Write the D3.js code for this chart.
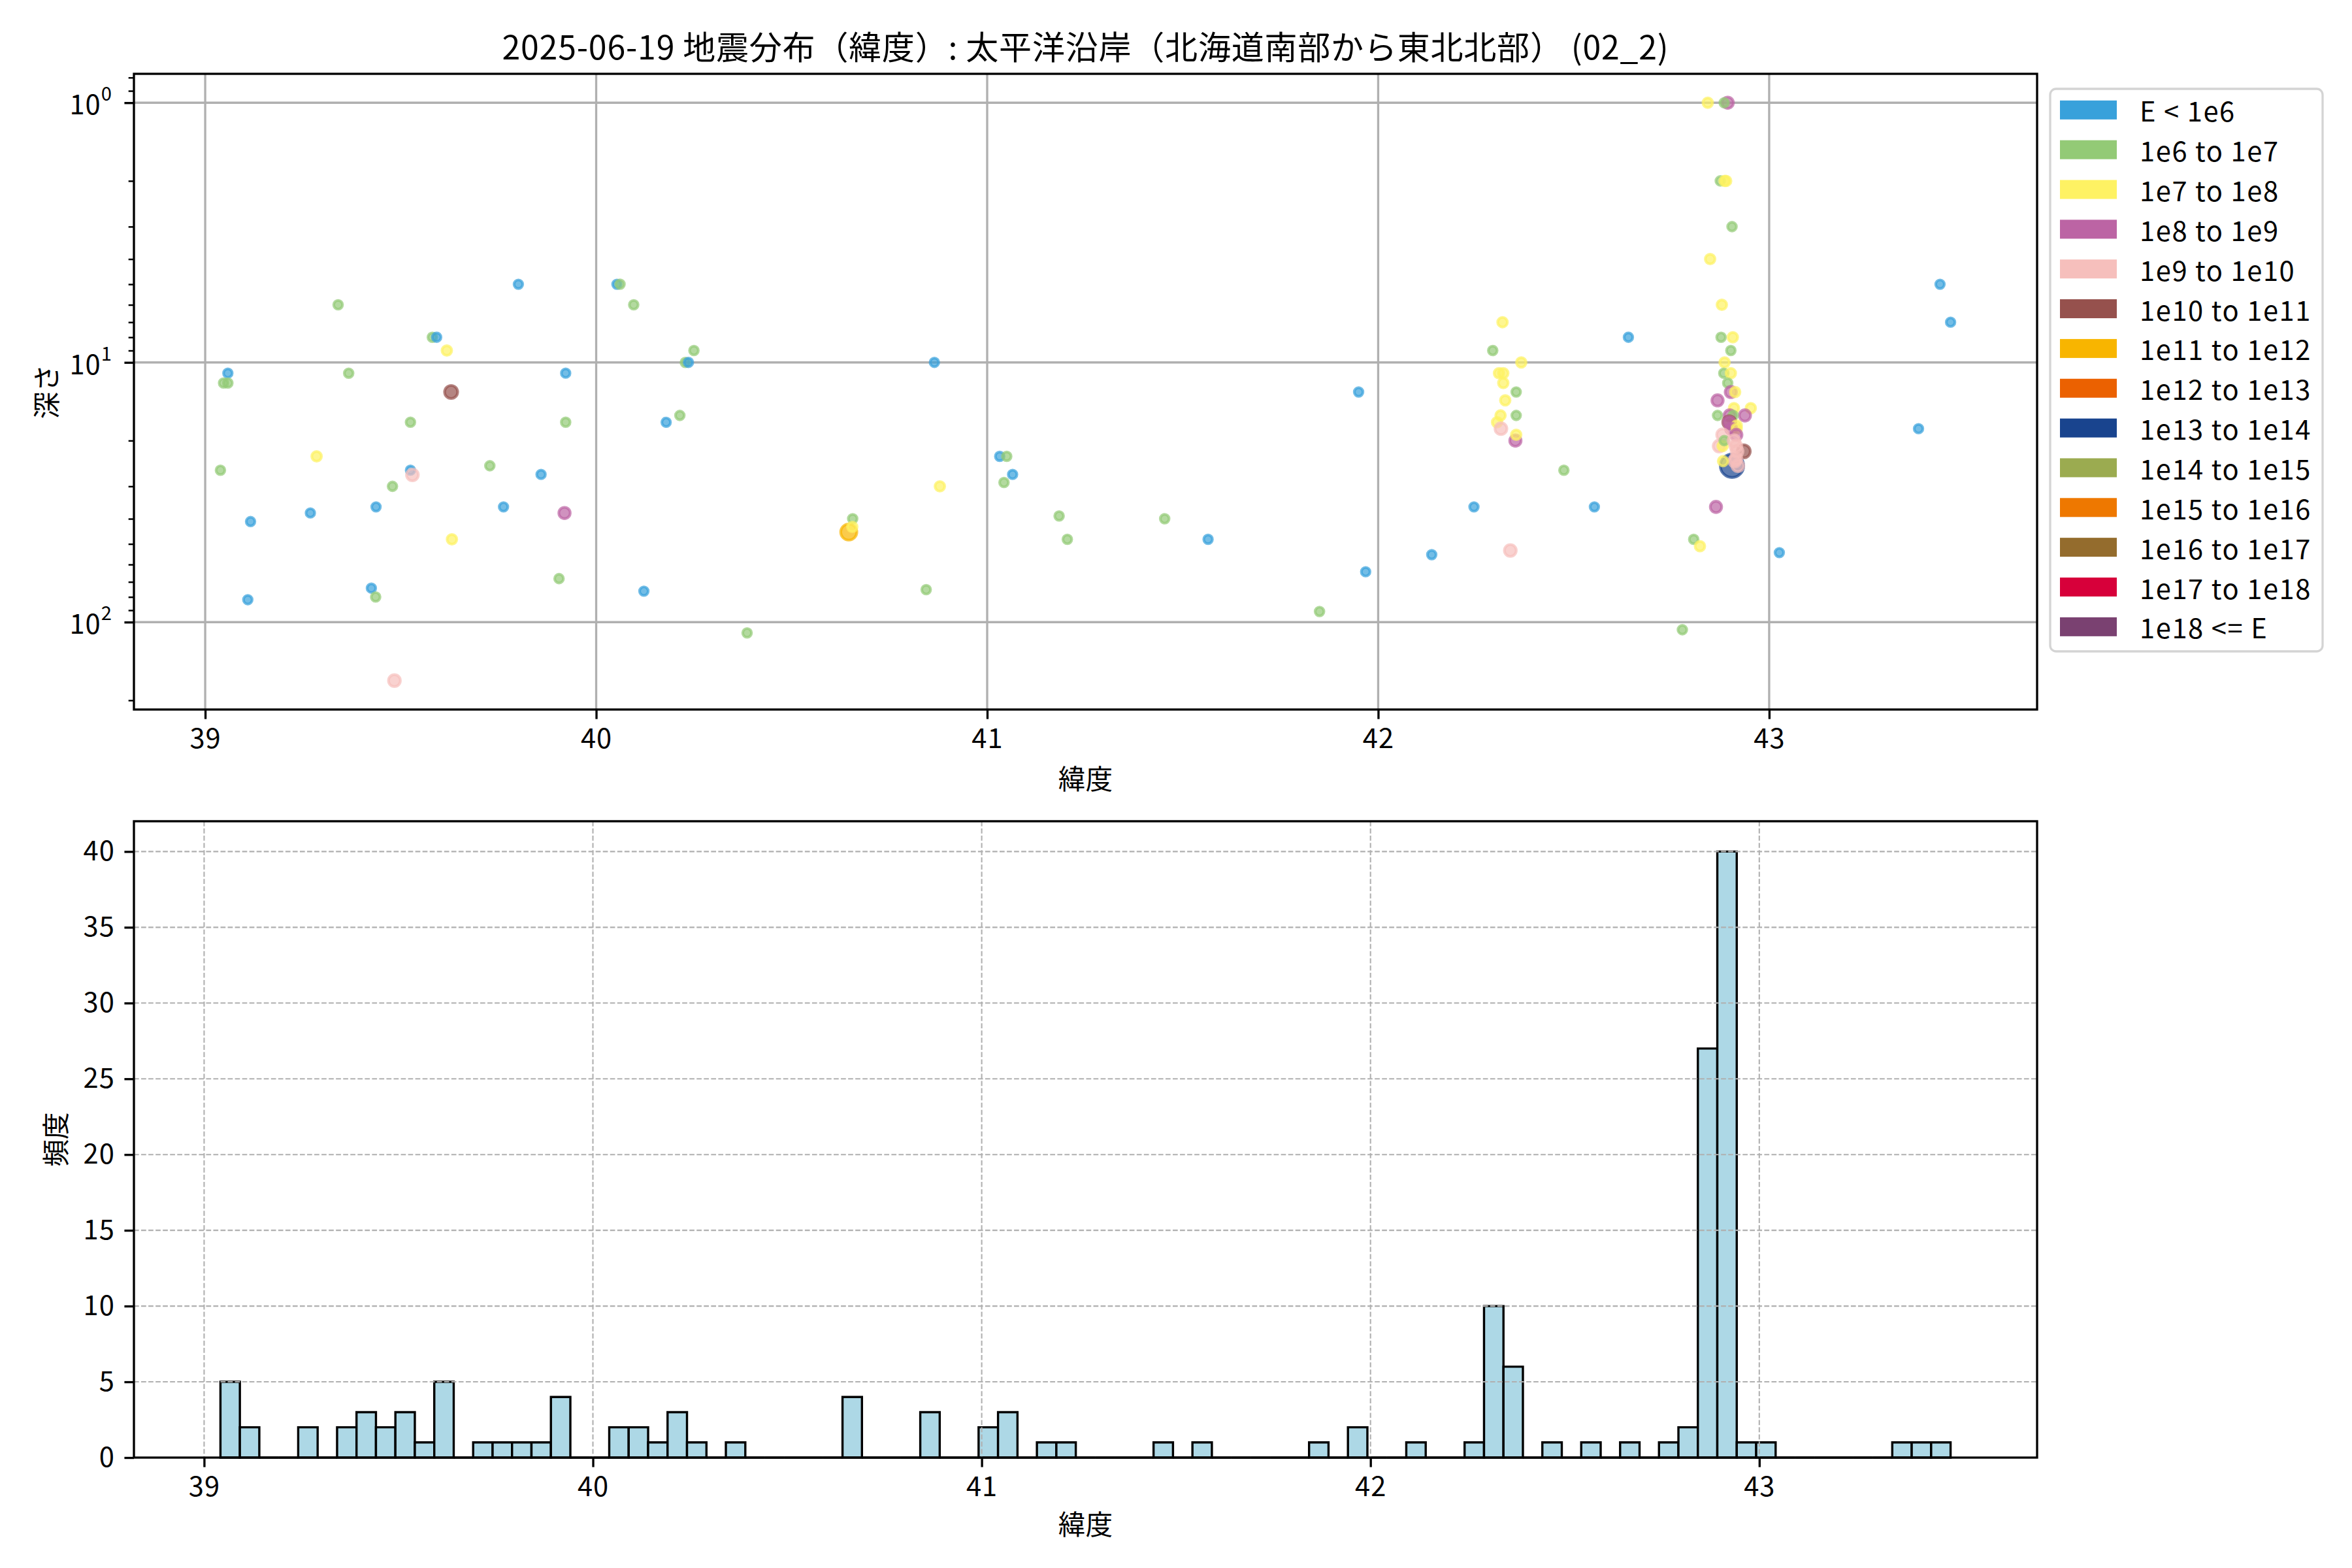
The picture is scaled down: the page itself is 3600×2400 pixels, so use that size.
<!DOCTYPE html>
<html><head><meta charset="utf-8">
<script src="https://cdn.jsdelivr.net/npm/d3@7"></script>
<style>
body{margin:0;background:#fff}
text{font-family:"Noto Sans CJK JP","Noto Sans",sans-serif;fill:#000}
</style>
</head><body><svg id="c" width="3600" height="2400" xmlns="http://www.w3.org/2000/svg"></svg>
<script>
// ---------------- DATA ----------------
const titleText = "2025-06-19 地震分布（緯度）: 太平洋沿岸（北海道南部から東北北部） (02_2)";
const xLabelText = "緯度";
const yLabelTopText = "深さ";
const yLabelHistText = "頻度";

const classLabels = ["E < 1e6","1e6 to 1e7","1e7 to 1e8","1e8 to 1e9","1e9 to 1e10","1e10 to 1e11",
  "1e11 to 1e12","1e12 to 1e13","1e13 to 1e14","1e14 to 1e15","1e15 to 1e16","1e16 to 1e17",
  "1e17 to 1e18","1e18 <= E"];
const classColors = ["#38a1db","#93ca76","#fef263","#bc64a4","#f6bfbc","#96514d","#f8b500",
  "#eb6101","#19448e","#9bab50","#ee7800","#946c2d","#d7003a","#7a4171"];

// scatter: latitude, depth (km), energy class index
const quakeLat = [
  39.340,39.801,40.053,40.061,40.096,39.581,39.592,39.618,40.250,40.228,40.236,39.058,39.047,39.058,
  39.367,39.922,39.629,39.525,39.922,40.179,40.214,39.285,39.039,39.525,39.530,39.728,39.859,39.479,
  39.437,39.763,39.269,39.919,39.116,39.631,39.905,40.122,39.425,39.436,39.109,40.386,39.484,
  40.865,41.950,41.032,41.050,41.065,41.043,40.879,41.184,41.454,40.656,40.646,40.655,41.205,41.565,
  41.968,40.844,41.850,
  42.137,42.245,42.553,42.338,42.475,42.640,43.026,43.437,43.464,43.382,42.778,42.807,42.823,42.864,
  42.318,42.293,42.366,42.309,42.320,42.320,42.353,42.325,42.313,42.353,42.304,42.314,42.351,42.353,
  42.843,42.894,42.885,42.875,42.886,42.890,42.905,42.849,42.879,42.877,42.907,42.902,42.886,42.884,
  42.902,42.894,42.902,42.913,42.868,42.910,42.953,42.868,42.899,42.938,42.908,42.898,42.898,42.917,
  42.903,42.917,42.916,42.905,42.881,42.872,42.881,42.885,42.935,42.915,42.918,42.915,42.920,42.912,
  42.910,42.882];
const quakeDepth = [
  6.0,5.0,5.0,5.0,6.0,8.0,8.0,9.0,9.0,10.0,10.0,11.0,12.0,12.0,
  11.0,11.0,13.0,17.0,17.0,17.0,16.0,23.0,26.0,26.0,27.1,25.0,27.0,30.0,
  36.0,36.0,38.0,38.0,41.0,48.0,68.0,76.0,74.0,80.0,82.0,110,168,
  10.0,13.0,23.0,23.0,27.0,29.0,30.0,39.0,40.0,40.0,45.0,43.0,48.0,48.0,
  64.0,75.0,91.0,
  55.0,36.0,36.0,53.0,26.0,8.0,54.0,5.0,7.0,18.0,107,48.0,51.0,36.0,
  7.0,9.0,10.0,11.0,11.0,12.0,13.0,14.0,16.0,16.0,17.0,18.0,20.0,19.0,
  1.0,1.0,1.0,2.0,2.0,2.0,3.0,4.0,6.0,8.0,8.0,9.0,10.0,11.0,
  11.0,12.0,13.0,13.0,14.0,15.0,15.0,16.0,16.0,16.0,16.0,17.0,17.0,17.5,
  18.0,18.0,19.0,25.0,19.0,21.0,21.0,20.0,22.0,21.0,22.0,23.5,25.0,24.0,
  20.0,24.0];
const quakeClass = [
  1,0,0,1,1,1,0,2,1,1,0,0,1,1,
  1,0,5,1,1,0,1,2,1,0,4,1,0,1,
  0,0,0,3,0,2,1,0,0,1,0,1,4,
  0,0,0,1,0,1,2,1,1,1,6,2,1,0,
  0,1,1,
  0,0,0,4,1,0,0,0,0,0,1,1,2,3,
  2,1,2,2,2,2,1,2,2,1,2,4,3,2,
  2,3,1,1,2,2,1,2,2,1,2,1,2,1,
  2,1,3,2,3,2,2,1,3,3,1,5,3,2,
  3,2,3,8,4,4,2,1,5,4,4,4,4,4,
  4,2];

// histogram of latitude
const binStart = 39.042;
const binWidth = 0.05;
const binCounts = [
  5,2,0,0,2,0,2,3,2,3,1,5,0,1,1,1,1,4,0,0,
  2,2,1,3,1,0,1,0,0,0,0,0,4,0,0,0,3,0,0,2,
  3,0,1,1,0,0,0,0,1,0,1,0,0,0,0,0,1,0,2,0,
  0,1,0,0,1,10,6,0,1,0,1,0,1,0,1,2,27,40,1,1,
  0,0,0,0,0,0,1,1,1];

const latTicks = [39,40,41,42,43];
const depthTicks = [1,10,100];
const depthMinorTicks = [0.8,0.9,2,3,4,5,6,7,8,9,20,30,40,50,60,70,80,90,200];
const countTicks = [0,5,10,15,20,25,30,35,40];

// ---------------- LAYOUT / STYLE ----------------
const PT = 300/72;
const FS = 10*PT;
const L = 205, R = 3118, T1 = 113, B1 = 1086, T2 = 1257, B2 = 2231;
const radius = [6.6,6.7,7.4,8.7,9.1,10.0,12.4,14.5,17.9,20,22,24,26,28];

const svg = d3.select("#c");
svg.append("rect").attr("width",3600).attr("height",2400).attr("fill","#fff");

// --- scales (matplotlib-like 5% margins) ---
const latExt = d3.extent(quakeLat);
const latPad = (latExt[1]-latExt[0])*0.05;
const xTop = d3.scaleLinear().domain([latExt[0]-latPad, latExt[1]+latPad]).range([L,R]);
const dExt = d3.extent(quakeDepth).map(Math.log10);
const dPad = (dExt[1]-dExt[0])*0.05;
const yTop = d3.scaleLog().domain([Math.pow(10,dExt[0]-dPad), Math.pow(10,dExt[1]+dPad)]).range([T1,B1]);

const hEnd = binStart + binCounts.length*binWidth;
const hPad = (hEnd-binStart)*0.05;
const xHist = d3.scaleLinear().domain([binStart-hPad, hEnd+hPad]).range([L,R]);
const yHist = d3.scaleLinear().domain([0, d3.max(binCounts)*1.05]).range([B2,T2]);

function styleAxis(g, w){
  g.select(".domain").remove();
  g.selectAll(".tick line").attr("stroke","#000").attr("stroke-width",w);
  g.selectAll(".tick text").attr("font-size",FS).attr("fill","#000").attr("letter-spacing",1)
   .style("font-family",'"Noto Sans CJK JP","Noto Sans",sans-serif');
}

// ================= TOP PLOT =================
const gTop = svg.append("g");
gTop.append("g").selectAll("line").data(latTicks).join("line")
  .attr("x1",d=>xTop(d)).attr("x2",d=>xTop(d)).attr("y1",T1).attr("y2",B1)
  .attr("stroke","#b0b0b0").attr("stroke-width",0.8*PT);
gTop.append("g").selectAll("line").data(depthTicks).join("line")
  .attr("y1",d=>yTop(d)).attr("y2",d=>yTop(d)).attr("x1",L).attr("x2",R)
  .attr("stroke","#b0b0b0").attr("stroke-width",0.8*PT);

const pts = quakeLat.map((v,i)=>({lat:v, depth:quakeDepth[i], c:quakeClass[i]}));
gTop.append("g").selectAll("circle").data(pts).join("circle")
  .attr("cx",d=>xTop(d.lat)).attr("cy",d=>yTop(d.depth)).attr("r",d=>radius[d.c])
  .attr("fill",d=>classColors[d.c]).attr("fill-opacity",0.7)
  .attr("stroke",d=>classColors[d.c]).attr("stroke-opacity",0.7).attr("stroke-width",1.0*PT);

const axTopX = gTop.append("g").attr("transform",`translate(0,${B1})`)
  .call(d3.axisBottom(xTop).tickValues(latTicks).tickFormat(d3.format("d")).tickSize(3.5*PT).tickPadding(3.5*PT));
styleAxis(axTopX, 0.8*PT);
const axTopYMinor = gTop.append("g").attr("transform",`translate(${L},0)`)
  .call(d3.axisLeft(yTop).tickValues(depthMinorTicks).tickFormat("").tickSize(2*PT));
styleAxis(axTopYMinor, 0.6*PT);
const axTopY = gTop.append("g").attr("transform",`translate(${L},0)`)
  .call(d3.axisLeft(yTop).tickValues(depthTicks).tickFormat("").tickSize(3.5*PT));
styleAxis(axTopY, 0.8*PT);
const lab = gTop.append("g").selectAll("text").data(depthTicks).join("text")
  .attr("x",L-3.5*PT-3.5*PT-4).attr("y",d=>yTop(d)).attr("text-anchor","end")
  .attr("dominant-baseline","central").attr("font-size",FS).attr("letter-spacing",1);
lab.append("tspan").text("10");
lab.append("tspan").attr("font-size",FS*0.7).attr("dy",-FS*0.38).text(d=>String(Math.round(Math.log10(d))));

gTop.append("rect").attr("x",L).attr("y",T1).attr("width",R-L).attr("height",B1-T1)
  .attr("fill","none").attr("stroke","#000").attr("stroke-width",0.8*PT);

svg.append("text").attr("x",(L+R)/2).attr("y",90.5).attr("text-anchor","middle")
  .attr("font-size",12*PT).attr("letter-spacing",0.8).text(titleText);
svg.append("text").attr("x",(L+R)/2).attr("y",1190).attr("text-anchor","middle")
  .attr("dominant-baseline","central").attr("font-size",FS).text(xLabelText);
svg.append("text").attr("transform",`translate(69,${(T1+B1)/2}) rotate(-90)`).attr("text-anchor","middle")
  .attr("dominant-baseline","central").attr("font-size",FS).text(yLabelTopText);

// legend
const lg = svg.append("g");
lg.append("rect").attr("x",3138).attr("y",136).attr("width",417).attr("height",861).attr("rx",9)
  .attr("fill","#fff").attr("stroke","#d4d4d4").attr("stroke-width",3.3);
const li = lg.selectAll("g.item").data(classLabels).join("g").attr("class","item")
  .attr("transform",(d,i)=>`translate(0,${168.3+i*60.85})`);
li.append("rect").attr("x",3153).attr("y",-14.5).attr("width",87).attr("height",29)
  .attr("fill",(d,i)=>classColors[i]);
li.append("text").attr("x",3275).attr("y",0).attr("dominant-baseline","central")
  .attr("font-size",FS).attr("letter-spacing",1.6).text(d=>d);

// ================= HISTOGRAM =================
const gH = svg.append("g");
const bars = binCounts.map((c,i)=>({x0:binStart+i*binWidth, x1:binStart+(i+1)*binWidth, c}));
gH.append("g").selectAll("path").data(bars).join("path")
  .attr("d",d=>`M${xHist(d.x0)},${yHist(0)}V${yHist(d.c)}H${xHist(d.x1)}V${yHist(0)}Z`)
  .attr("fill","#add8e6").attr("stroke","#000").attr("stroke-width",3.4).attr("stroke-linejoin","miter");
gH.append("g").selectAll("line").data(latTicks).join("line")
  .attr("x1",d=>xHist(d)).attr("x2",d=>xHist(d)).attr("y1",T2).attr("y2",B2)
  .attr("stroke","#b0b0b0").attr("stroke-width",0.5*PT).attr("stroke-dasharray",`${3.7*0.5*PT},${1.6*0.5*PT}`);
gH.append("g").selectAll("line").data(countTicks).join("line")
  .attr("y1",d=>yHist(d)).attr("y2",d=>yHist(d)).attr("x1",L).attr("x2",R)
  .attr("stroke","#b0b0b0").attr("stroke-width",0.5*PT).attr("stroke-dasharray",`${3.7*0.5*PT},${1.6*0.5*PT}`);

const axHX = gH.append("g").attr("transform",`translate(0,${B2})`)
  .call(d3.axisBottom(xHist).tickValues(latTicks).tickFormat(d3.format("d")).tickSize(3.5*PT).tickPadding(3.5*PT));
styleAxis(axHX, 0.8*PT);
const axHY = gH.append("g").attr("transform",`translate(${L},0)`)
  .call(d3.axisLeft(yHist).tickValues(countTicks).tickFormat(d3.format("d")).tickSize(3.5*PT).tickPadding(3.5*PT));
styleAxis(axHY, 0.8*PT);
gH.append("rect").attr("x",L).attr("y",T2).attr("width",R-L).attr("height",B2-T2)
  .attr("fill","none").attr("stroke","#000").attr("stroke-width",0.8*PT);

svg.append("text").attr("x",(L+R)/2).attr("y",2331).attr("text-anchor","middle")
  .attr("dominant-baseline","central").attr("font-size",FS).text(xLabelText);
svg.append("text").attr("transform",`translate(83,${(T2+B2)/2}) rotate(-90)`).attr("text-anchor","middle")
  .attr("dominant-baseline","central").attr("font-size",FS).text(yLabelHistText);
</script>
</body></html>
